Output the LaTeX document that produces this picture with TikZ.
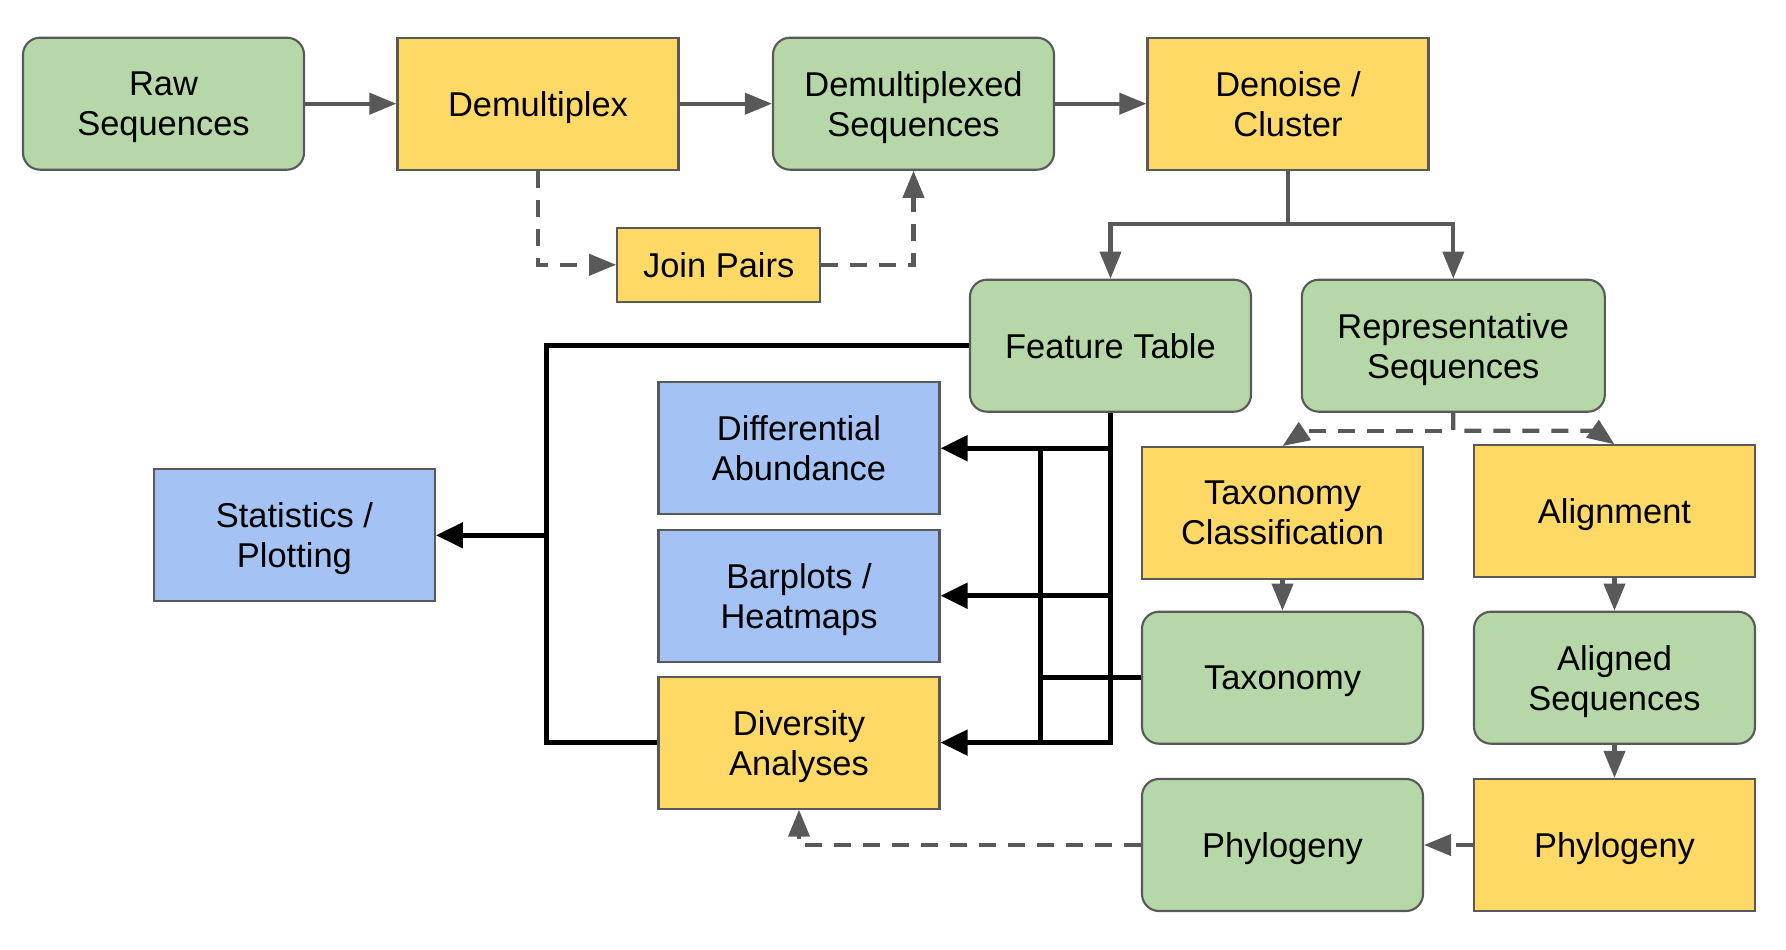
\documentclass[tikz,border=0pt]{standalone}
\usepackage{fontspec}
\setmainfont{Liberation Sans}
\usetikzlibrary{arrows.meta}
\definecolor{boxgreen}{HTML}{B6D7A8}
\definecolor{boxyellow}{HTML}{FFD966}
\definecolor{boxblue}{HTML}{A4C2F4}
\definecolor{edgegray}{HTML}{595959}
\tikzset{
	box/.style={draw=edgegray, line width=0.6pt, minimum width=2.81cm, minimum height=1.32cm,
		inner sep=0pt, align=center, text depth=0pt, font=\fontsize{9.8}{11.4}\selectfont},
	greenbox/.style={box, fill=boxgreen, rounded corners=0.17cm},
	yellowbox/.style={box, fill=boxyellow},
	bluebox/.style={box, fill=boxblue},
	flow/.style={draw=edgegray, line width=1.15pt, -{Triangle[length=2.7mm, width=2.1mm]}},
	opt/.style={flow, dash pattern=on 0.17cm off 0.12cm},
	link/.style={draw=black, line width=1.4pt},
	linkarrow/.style={link, -{Triangle[length=2.7mm, width=2.5mm]}}
}
\begin{document}
\begin{tikzpicture}
		\useasboundingbox (0, 0) rectangle (17.86, -9.5);
		% top row
		\node[greenbox] (raw) at (1.635, -1.037) {Raw\\Sequences};
		\node[yellowbox] (demux) at (5.38, -1.037) {Demultiplex};
		\node[greenbox] (demuxseq) at (9.135, -1.037) {Demultiplexed\\Sequences};
		\node[yellowbox] (denoise) at (12.88, -1.037) {Denoise /\\Cluster};
		\node[yellowbox, minimum width=2.03cm, minimum height=0.74cm] (join) at (7.187, -2.648) {Join Pairs};
		% outputs of denoising
		\node[greenbox] (feat) at (11.105, -3.457) {Feature Table};
		\node[greenbox, minimum width=3.03cm] (rep) at (14.533, -3.457) {Representative\\Sequences};
		% analyses
		\node[bluebox] (diffab) at (7.99, -4.482) {Differential\\Abundance};
		\node[bluebox] (barheat) at (7.99, -5.957) {Barplots /\\Heatmaps};
		\node[yellowbox] (divers) at (7.99, -7.426) {Diversity\\Analyses};
		\node[bluebox] (stats) at (2.944, -5.353) {Statistics /\\Plotting};
		% taxonomy and phylogeny
		\node[yellowbox] (taxclass) at (12.825, -5.131) {Taxonomy\\Classification};
		\node[yellowbox] (align) at (16.145, -5.114) {Alignment};
		\node[greenbox] (tax) at (12.825, -6.777) {Taxonomy};
		\node[greenbox] (aligned) at (16.145, -6.777) {Aligned\\Sequences};
		\node[greenbox] (phylo) at (12.825, -8.45) {Phylogeny};
		\node[yellowbox] (phylotool) at (16.145, -8.45) {Phylogeny};
		% main chain
		\draw[flow] (raw) -- (demux);
		\draw[flow] (demux) -- (demuxseq);
		\draw[flow] (demuxseq) -- (denoise);
		% optional joining
		\draw[opt] (demux.south) |- (join.west);
		\draw[opt] (join.east) -| (demuxseq.south);
		% split after denoising
		\draw[flow] (denoise.south) -- ++(0, -0.53) -| (feat.north);
		\draw[flow] (denoise.south) -- ++(0, -0.53) -| (rep.north);
		\draw[opt] (rep.south) -- ++(0, -0.18) -- ++(-1.48, 0) -- (taxclass.north);
		\draw[opt] (rep.south) -- ++(0, -0.18) -- ++(1.42, 0) -- (align.north);
		% downstream steps
		\draw[flow] (taxclass) -- (tax);
		\draw[flow] (align) -- (aligned);
		\draw[flow] (aligned) -- (phylotool);
		\draw[opt] (phylotool) -- (phylo);
		\draw[opt] (phylo.west) -| (divers.south);
		% feature table to analyses
		\coordinate (hub) at (5.467, -5.353);
		\draw[link] (feat.west) -| (hub) |- (divers.west);
		\draw[linkarrow] (hub) -- (stats.east);
		\draw[linkarrow] (feat.south) |- (diffab.east);
		\draw[linkarrow] (feat.south) |- (barheat.east);
		\draw[linkarrow] (feat.south) |- (divers.east);
		% taxonomy to analyses
		\draw[link] (tax.west) -| ([xshift=1cm]diffab.east);
		\draw[link] ([xshift=1cm]diffab.east) -- ([xshift=1cm]divers.east);
	\end{tikzpicture}
\end{document}
